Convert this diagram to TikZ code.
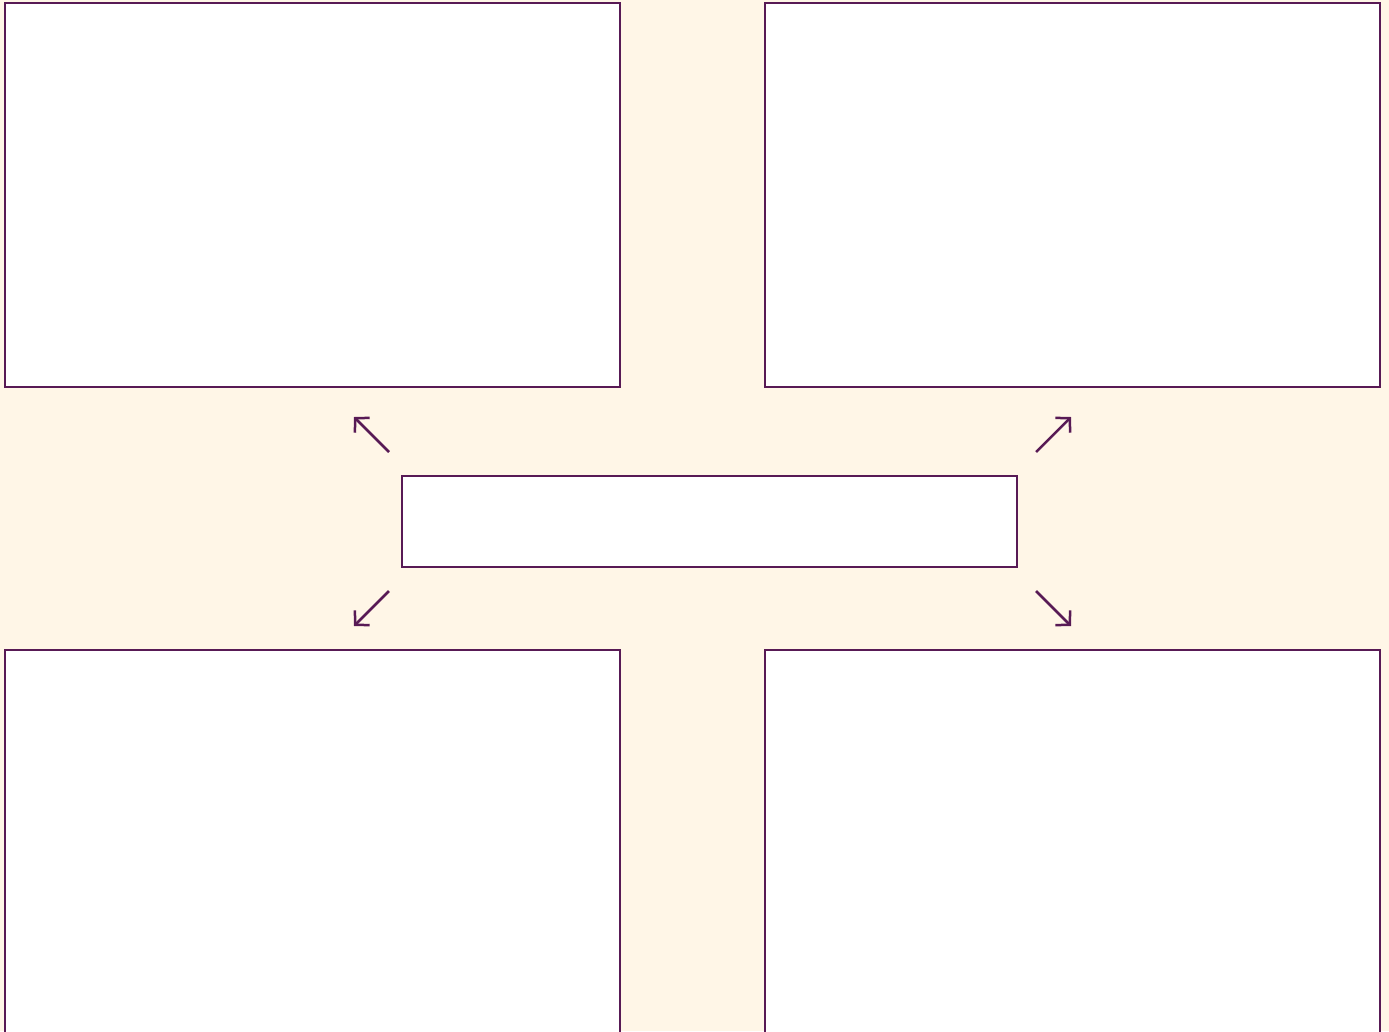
\documentclass[tikz,border=0pt]{standalone}
\usetikzlibrary{arrows.meta}
\definecolor{bgc}{HTML}{FFF6E7}
\definecolor{stk}{HTML}{581A55}
\begin{document}
\begin{tikzpicture}[x=1pt,y=-1pt,
  panel/.style={draw=stk,line width=2.5pt,fill=white,inner sep=0pt,outer sep=0pt,anchor=north west},
  arr/.style={draw=stk,line width=2.5pt,-{Straight Barb[length=10pt,width=21pt,line width=2.5pt]}}]
\useasboundingbox (0,0) rectangle (1389,1031);
\clip (0,0) rectangle (1389,1031);
\fill[bgc] (0,0) rectangle (1389,1031);
\node[panel,minimum width=615pt,minimum height=384pt] (tl) at (5,3) {};
\node[panel,minimum width=615pt,minimum height=384pt] (tr) at (765,3) {};
\node[panel,minimum width=615pt,minimum height=91pt] (c) at (402,476) {};
\node[panel,minimum width=615pt,minimum height=420pt] (bl) at (5,650) {};
\node[panel,minimum width=615pt,minimum height=420pt] (br) at (765,650) {};
\coordinate (a1s) at (389,452); \coordinate (a1e) at (354,417);
\coordinate (a2s) at (1036,452); \coordinate (a2e) at (1071,417);
\coordinate (a3s) at (389,591); \coordinate (a3e) at (354,626);
\coordinate (a4s) at (1036,591); \coordinate (a4e) at (1071,626);
\draw[arr] (a1s) -- (a1e);
\draw[arr] (a2s) -- (a2e);
\draw[arr] (a3s) -- (a3e);
\draw[arr] (a4s) -- (a4e);
\end{tikzpicture}
\end{document}
